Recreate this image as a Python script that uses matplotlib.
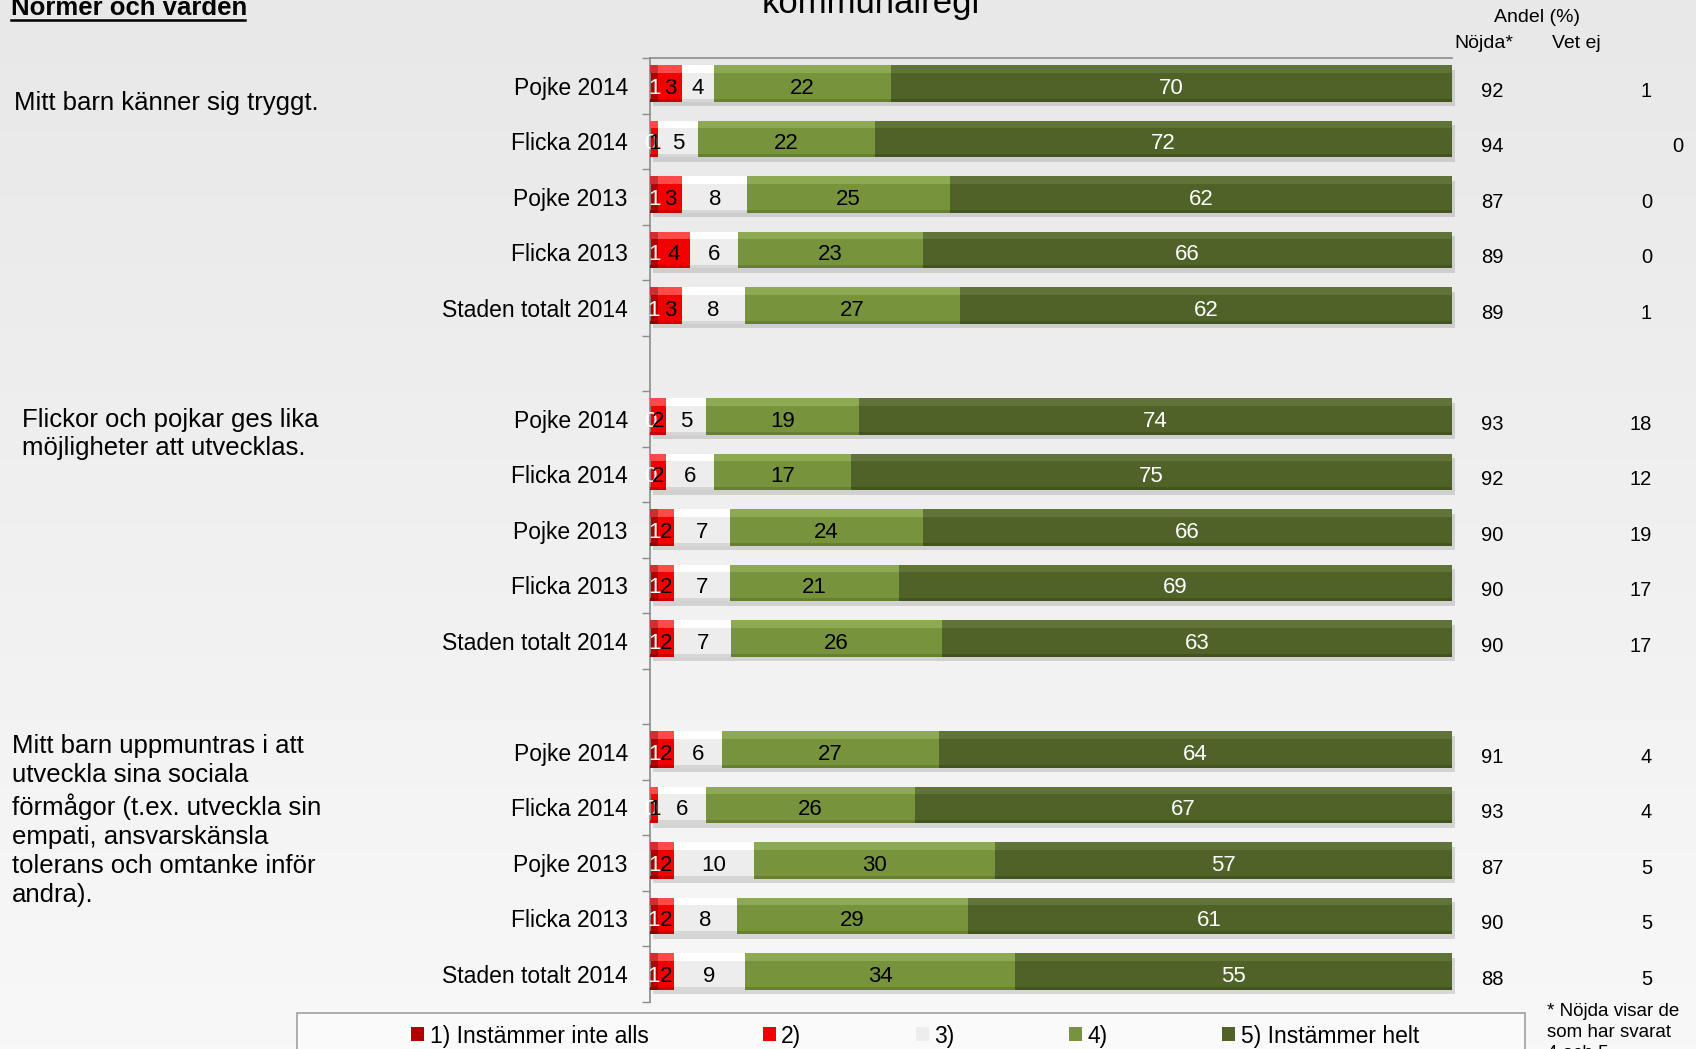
import numpy as np
import matplotlib.pyplot as plt
import matplotlib.transforms as mtransforms
from matplotlib.colors import LinearSegmentedColormap
from matplotlib.patches import Rectangle
from matplotlib.lines import Line2D

plt.rcParams['font.family'] = ['Liberation Sans', 'DejaVu Sans']

row_labels = ['Pojke 2014', 'Flicka 2014', 'Pojke 2013', 'Flicka 2013', 'Staden totalt 2014']
questions = ['Mitt barn känner sig tryggt.',
             'Flickor och pojkar ges lika\nmöjligheter att utvecklas.',
             'Mitt barn uppmuntras i att\nutveckla sina sociala\nförmågor (t.ex. utveckla sin\n'
             'empati, ansvarskänsla\ntolerans och omtanke inför\nandra).']
legend_labels = ['1) Instämmer inte alls', '2)', '3)', '4)', '5) Instämmer helt']

# andel (%) per svarsalternativ 1-5
q1 = [[1, 3, 4, 22, 70], [0, 1, 5, 22, 72], [1, 3, 8, 25, 62], [1, 4, 6, 23, 66], [1, 3, 8, 27, 62]]
q2 = [[0, 2, 5, 19, 74], [0, 2, 6, 17, 75], [1, 2, 7, 24, 66], [1, 2, 7, 21, 69], [1, 2, 7, 26, 63]]
q3 = [[1, 2, 6, 27, 64], [0, 1, 6, 26, 67], [1, 2, 10, 30, 57], [1, 2, 8, 29, 61], [1, 2, 9, 34, 55]]
nojda = [92, 94, 87, 89, 89, 93, 92, 90, 90, 90, 91, 93, 87, 90, 88]
vet_ej = [1, 0, 0, 0, 1, 18, 12, 19, 17, 17, 4, 4, 5, 5, 5]

colors = ['#B00000', '#F20000', '#EDEDED', '#77933C', '#4F6228']
light = ['#CC3030', '#FF4A4A', '#FFFFFF', '#8DAA52', '#60743A']
dark = ['#900000', '#D00000', '#D6D6D6', '#66802F', '#43541F']
txt_colors = ['white', 'black', 'black', 'black', 'white']

vals = np.array(q1 + q2 + q3, dtype=float)
share = vals / vals.sum(axis=1, keepdims=True)
lefts = np.cumsum(share, axis=1) - share
ypos = np.array([g * 6 + r for g in range(3) for r in range(5)], dtype=float)

W, H = 1696, 1049
fig = plt.figure(figsize=(W / 100, H / 100), dpi=100)

# bakgrund med svag gradient
bg = fig.add_axes([0, 0, 1, 1], zorder=-1)
cmap = LinearSegmentedColormap.from_list('bg', ['#F8F8F8', '#E8E8E8'])
bg.imshow(np.linspace(0, 1, 256).reshape(-1, 1), aspect='auto', cmap=cmap,
          extent=[0, 1, 0, 1], origin='lower')
bg.axis('off')

ax = fig.add_axes([650 / W, 1 - 1001.5 / H, 802 / W, 943.5 / H])
ax.set_facecolor('none')

bh = 0.66
yb = ypos - 0.04
# skugga
ax.barh(yb + 0.08, share.sum(axis=1), left=0.004, height=bh, color='#8A8A8A',
        alpha=0.3, zorder=1, clip_on=False)
for k in range(5):
    ax.barh(yb, share[:, k], left=lefts[:, k], height=bh, color=colors[k], zorder=2)
    ax.barh(yb - bh / 2 + 0.07, share[:, k], left=lefts[:, k], height=0.14,
            color=light[k], zorder=3)
    ax.barh(yb + bh / 2 - 0.03, share[:, k], left=lefts[:, k], height=0.06,
            color=dark[k], zorder=3)
    for i in range(len(ypos)):
        ax.text(lefts[i, k] + share[i, k] / 2, yb[i] + 0.04, '%d' % vals[i, k],
                ha='center', va='center_baseline', fontsize=16, color=txt_colors[k],
                zorder=4)

ax.set_xlim(0, 1)
ax.set_ylim(16.5, -0.5)
ax.set_xticks([])
ax.set_yticks(ypos, labels=row_labels * 3)
ax.tick_params(axis='y', which='major', length=0, pad=16, labelsize=16.5)
ax.set_yticks(np.arange(-0.5, 17, 1), minor=True)
ax.tick_params(axis='y', which='minor', length=6, width=1, color='#8C8C8C')
for s in ['right', 'bottom']:
    ax.spines[s].set_visible(False)
for s in ['left', 'top']:
    ax.spines[s].set_color('#8C8C8C')
    ax.spines[s].set_linewidth(1.2)

# kolumner till höger
tr = ax.get_yaxis_transform()
for i in range(len(ypos)):
    ax.text(1.050, ypos[i] + 0.1, str(nojda[i]), transform=tr, ha='center',
            va='center', fontsize=14.5)
    xv = 1.289 if i == 1 else 1.2494
    ax.text(xv, ypos[i] + 0.1, str(vet_ej[i]), transform=tr, ha='right',
            va='center', fontsize=14.5)

fig.text(1537 / W, 1 - 18 / H, 'Andel (%)', ha='center', va='center', fontsize=14)
fig.text(1484 / W, 1 - 43 / H, 'Nöjda*', ha='center', va='center', fontsize=14)
fig.text(1576 / W, 1 - 43 / H, 'Vet ej', ha='center', va='center', fontsize=14)

# frågetexter
qtr = mtransforms.blended_transform_factory(fig.transFigure, ax.transData)
ax.text(14 / W, 0.31, questions[0], transform=qtr, ha='left', va='center', fontsize=18.5)
ax.text(22 / W, 5.80, questions[1], transform=qtr, ha='left', va='top', fontsize=18.5,
        linespacing=1.25)
ax.text(12 / W, 11.68, questions[2], transform=qtr, ha='left', va='top', fontsize=18.5,
        linespacing=1.27)

# rubriker
fig.text(871 / W, 1 - 13 / H, 'kommunalregi', ha='center', va='baseline', fontsize=25)
fig.text(11 / W, 1 - 15 / H, 'Normer och varden', ha='left', va='baseline',
         fontsize=18.5, fontweight='bold')
fig.add_artist(Line2D([11 / W, 245 / W], [1 - 19.5 / H] * 2, color='black', lw=1.8))

# legend
fig.add_artist(Rectangle((297 / W, -0.02), (1525 - 297) / W, (H - 1013) / H + 0.02,
                         transform=fig.transFigure, facecolor='#FAFAFA',
                         edgecolor='#A0A0A0', lw=1.2, zorder=1))
handles = [Rectangle((0, 0), 1, 1, facecolor=c) for c in colors]
fig.legend(handles, legend_labels, ncol=5, loc='center',
           bbox_to_anchor=(915 / W, 1 - 1036 / H), frameon=False, fontsize=16.5,
           handlelength=0.55, handleheight=0.55, handletextpad=0.25, columnspacing=5.0)

fig.text(1547 / W, 1 - 1003 / H, '* Nöjda visar de\nsom har svarat\n4 och 5',
         ha='left', va='top', fontsize=13.5, linespacing=1.3)

fig.savefig('out.png', dpi=100)
